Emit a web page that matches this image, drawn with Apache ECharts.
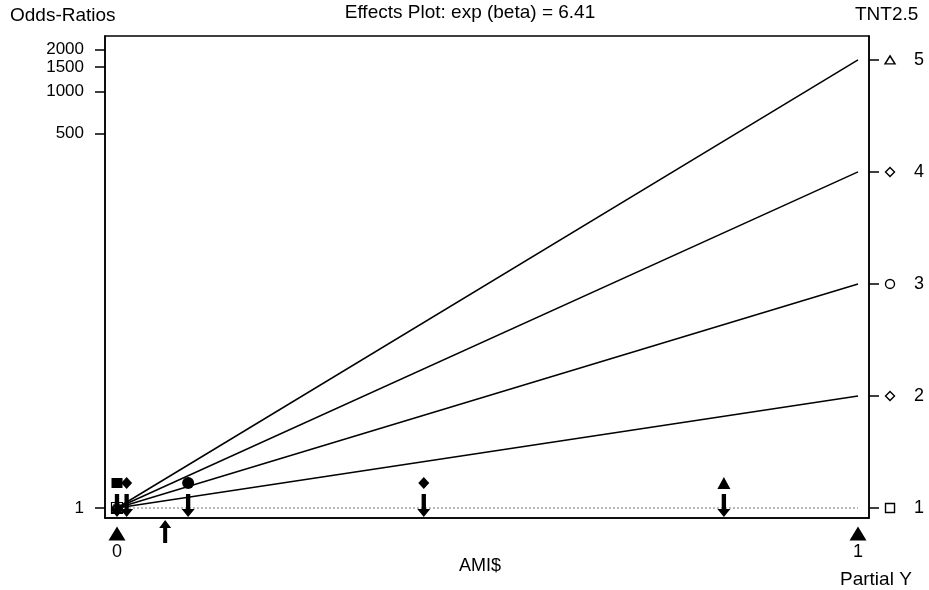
<!DOCTYPE html>
<html><head><meta charset="utf-8">
<script src="https://cdn.jsdelivr.net/npm/echarts@6/dist/echarts.min.js"></script>
<style>html,body{margin:0;padding:0;background:#fff}#c{width:929px;height:590px}</style>
</head><body><div id="c"></div>
<script>
// ---- data ----
const levels = [1, 2, 3, 4, 5];
const endOddsRatios = [1, 6.41, 41.09, 263.4, 1688];   // odds ratio of each level at AMI$ = 1
const leftTickValues = [1, 500, 1000, 1500, 2000];
const observedX = [0, 0.013, 0.096, 0.414, 0.819];     // filled markers / arrows per level
const meanX = 0.065;                                    // up arrow
const xTickValues = [0, 1];
const levelSymbols = ['rect', 'diamond', 'circle', 'diamond', 'triangle'];
const titleText = 'Effects Plot: exp (beta) = 6.41';
const xName = 'AMI$';
const yName = 'Odds-Ratios';
const rightName = 'TNT2.5';
const partialName = 'Partial Y';

// ---- build ----
const FONT = '"Liberation Sans", Arial, sans-serif';
const ln = Math.log;
const chart = echarts.init(document.getElementById('c'), null, {renderer: 'canvas'});

const markerRow = 0.415, arrowRow = 0.041, upRow = -0.39, triRow = -0.423, rightSymX = 1.0432;
const downArrow = 'path://M4,0 L8,0 L8,15 L12,15 L6,23 L0,15 L4,15 Z';
const upArrow = 'path://M6,0 L12,8 L8,8 L8,23 L4,23 L4,8 L0,8 Z';

const series = [];
levels.forEach((lv, i) => {
  series.push({
    type: 'line', xAxisIndex: 0, yAxisIndex: 0, silent: true, showSymbol: false, symbol: 'none',
    data: [[0, ln(1)], [1, ln(endOddsRatios[i])]],
    lineStyle: i === 0 ? {color: '#777', width: 1, type: [2, 2]} : {color: '#000', width: 1.5},
    z: 2
  });
});
const symSize = {rect: [11, 10], diamond: [11, 12], circle: 12, triangle: [13, 12]};
// hollow symbols at origin
series.push({
  type: 'scatter', silent: true, clip: false, z: 3,
  data: levels.map((lv, i) => ({value: [0, 0], symbol: levelSymbols[i], symbolSize: i === 0 ? 11 : 9})),
  itemStyle: {color: 'rgba(0,0,0,0)', borderColor: '#000', borderWidth: 1.2, opacity: 1}
});
// filled level markers
series.push({
  type: 'scatter', silent: true, clip: false, z: 4,
  data: levels.map((lv, i) => ({value: [observedX[i], markerRow], symbol: levelSymbols[i], symbolSize: symSize[levelSymbols[i]]})),
  itemStyle: {color: '#000', opacity: 1}
});
// down arrows
series.push({
  type: 'scatter', silent: true, clip: false, z: 4, symbol: downArrow, symbolSize: [13, 23], symbolKeepAspect: false,
  data: observedX.map(x => [x, arrowRow]), itemStyle: {color: '#000', opacity: 1}
});
// up arrow (outside plot)
series.push({
  type: 'scatter', silent: true, clip: false, z: 4, symbol: upArrow, symbolSize: [12, 23], symbolKeepAspect: false,
  data: [[meanX, upRow]], itemStyle: {color: '#000', opacity: 1}
});
// bottom triangles
series.push({
  type: 'scatter', silent: true, clip: false, z: 4, symbol: 'triangle', symbolSize: [17, 14],
  data: xTickValues.map(x => [x, triRow]), itemStyle: {color: '#000', opacity: 1}
});
// right axis hollow symbols
series.push({
  type: 'scatter', silent: true, clip: false, z: 4, yAxisIndex: 1,
  data: levels.map((lv, i) => ({value: [rightSymX, lv], symbol: levelSymbols[i], symbolSize: i === 2 ? 9 : (i === 4 ? [10, 8] : 9)})),
  itemStyle: {color: 'rgba(0,0,0,0)', borderColor: '#000', borderWidth: 1.4, opacity: 1}
});

const txt = {color: '#000', fontFamily: FONT, fontSize: 18, hideOverlap: false, showMinLabel: true, showMaxLabel: true};
const option = {
  animation: false,
  backgroundColor: '#fff',
  grid: {left: 105, right: 60, top: 36, bottom: 72, show: true, borderColor: '#000', borderWidth: 1.5, containLabel: false, outerBoundsMode: 'none'},
  xAxis: {
    type: 'value', min: -0.01619, max: 1.01484,
    axisLine: {show: true, onZero: false, lineStyle: {color: '#000', width: 1.5}},
    axisTick: {show: false}, splitLine: {show: false},
    axisLabel: Object.assign({customValues: xTickValues, margin: 25}, txt)
  },
  yAxis: [{
    type: 'value', min: -0.1658, max: 7.8275, position: 'left',
    axisLine: {show: true, onZero: false, lineStyle: {color: '#000', width: 1.5}},
    axisTick: {show: true, length: 10, customValues: leftTickValues.map(v => ln(v)), lineStyle: {color: '#000', width: 1.5}},
    splitLine: {show: false},
    axisLabel: Object.assign({}, txt, {customValues: leftTickValues.map(v => ln(v)), margin: 21, fontSize: 17,
      formatter: v => String(Math.round(Math.exp(v)))})
  }, {
    type: 'value', min: 0.91076, max: 5.2131, position: 'right',
    axisLine: {show: true, onZero: false, lineStyle: {color: '#000', width: 1.5}},
    axisTick: {show: true, length: 10, customValues: levels, lineStyle: {color: '#000', width: 1.5}},
    splitLine: {show: false},
    axisLabel: Object.assign({customValues: levels, margin: 45}, txt)
  }],
  graphic: [
    {type: 'text', x: 10, y: 16, style: {text: yName, font: '19px ' + FONT, fill: '#000', textAlign: 'left', textVerticalAlign: 'middle'}},
    {type: 'text', x: 470, y: 13, style: {text: titleText, font: '19px ' + FONT, fill: '#000', textAlign: 'center', textVerticalAlign: 'middle'}},
    {type: 'text', x: 855, y: 15, style: {text: rightName, font: '19px ' + FONT, fill: '#000', textAlign: 'left', textVerticalAlign: 'middle'}},
    {type: 'text', x: 480, y: 566, style: {text: xName, font: '18px ' + FONT, fill: '#000', textAlign: 'center', textVerticalAlign: 'middle'}},
    {type: 'text', x: 840, y: 580, style: {text: partialName, font: '19px ' + FONT, fill: '#000', textAlign: 'left', textVerticalAlign: 'middle'}}
  ],
  series: series
};
chart.setOption(option);
</script></body></html>
